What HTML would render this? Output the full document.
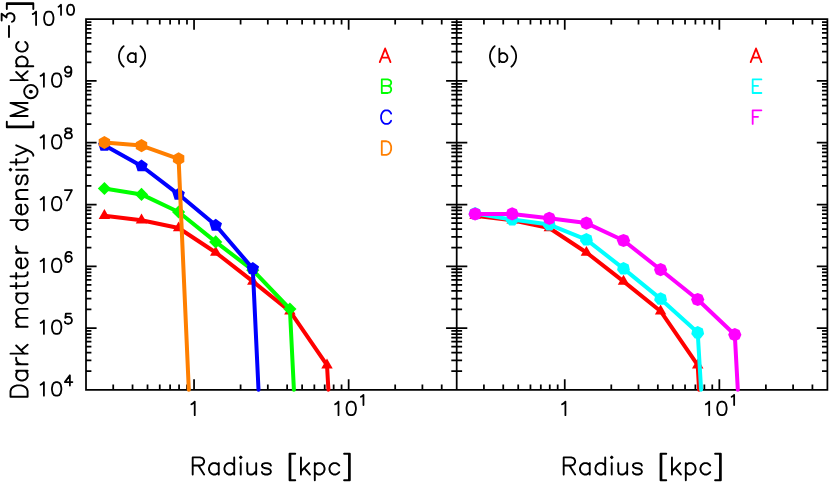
<!DOCTYPE html>
<html><head><meta charset="utf-8"><title>Dark matter density</title>
<style>html,body{margin:0;padding:0;background:#fff;font-family:"Liberation Sans",sans-serif}svg{display:block}</style></head>
<body><svg width="830" height="483" viewBox="0 0 830 483"><rect width="830" height="483" fill="#fff"/>
<path d="M86 19.2 H827.4 V389.8 H86 Z M456.7 19.2 V389.8 M113.22 19.2 v5.4 M113.22 389.8 v-5.4 M132.54 19.2 v5.4 M132.54 389.8 v-5.4 M147.52 19.2 v5.4 M147.52 389.8 v-5.4 M159.76 19.2 v5.4 M159.76 389.8 v-5.4 M170.11 19.2 v5.4 M170.11 389.8 v-5.4 M179.07 19.2 v5.4 M179.07 389.8 v-5.4 M186.98 19.2 v5.4 M186.98 389.8 v-5.4 M194.05 19.2 v10.6 M194.05 389.8 v-10.6 M240.59 19.2 v5.4 M240.59 389.8 v-5.4 M267.81 19.2 v5.4 M267.81 389.8 v-5.4 M287.13 19.2 v5.4 M287.13 389.8 v-5.4 M302.11 19.2 v5.4 M302.11 389.8 v-5.4 M314.35 19.2 v5.4 M314.35 389.8 v-5.4 M324.7 19.2 v5.4 M324.7 389.8 v-5.4 M333.66 19.2 v5.4 M333.66 389.8 v-5.4 M341.57 19.2 v5.4 M341.57 389.8 v-5.4 M348.65 19.2 v10.6 M348.65 389.8 v-10.6 M395.18 19.2 v5.4 M395.18 389.8 v-5.4 M422.4 19.2 v5.4 M422.4 389.8 v-5.4 M441.72 19.2 v5.4 M441.72 389.8 v-5.4 M483.92 19.2 v5.4 M483.92 389.8 v-5.4 M503.24 19.2 v5.4 M503.24 389.8 v-5.4 M518.22 19.2 v5.4 M518.22 389.8 v-5.4 M530.46 19.2 v5.4 M530.46 389.8 v-5.4 M540.81 19.2 v5.4 M540.81 389.8 v-5.4 M549.77 19.2 v5.4 M549.77 389.8 v-5.4 M557.68 19.2 v5.4 M557.68 389.8 v-5.4 M564.75 19.2 v10.6 M564.75 389.8 v-10.6 M611.29 19.2 v5.4 M611.29 389.8 v-5.4 M638.51 19.2 v5.4 M638.51 389.8 v-5.4 M657.83 19.2 v5.4 M657.83 389.8 v-5.4 M672.81 19.2 v5.4 M672.81 389.8 v-5.4 M685.05 19.2 v5.4 M685.05 389.8 v-5.4 M695.4 19.2 v5.4 M695.4 389.8 v-5.4 M704.36 19.2 v5.4 M704.36 389.8 v-5.4 M712.27 19.2 v5.4 M712.27 389.8 v-5.4 M719.35 19.2 v10.6 M719.35 389.8 v-10.6 M765.88 19.2 v5.4 M765.88 389.8 v-5.4 M793.1 19.2 v5.4 M793.1 389.8 v-5.4 M812.42 19.2 v5.4 M812.42 389.8 v-5.4 M86 371.21 h5.4 M451.3 371.21 h10.8 M827.4 371.21 h-5.4 M86 360.33 h5.4 M451.3 360.33 h10.8 M827.4 360.33 h-5.4 M86 352.61 h5.4 M451.3 352.61 h10.8 M827.4 352.61 h-5.4 M86 346.63 h5.4 M451.3 346.63 h10.8 M827.4 346.63 h-5.4 M86 341.74 h5.4 M451.3 341.74 h10.8 M827.4 341.74 h-5.4 M86 337.6 h5.4 M451.3 337.6 h10.8 M827.4 337.6 h-5.4 M86 334.02 h5.4 M451.3 334.02 h10.8 M827.4 334.02 h-5.4 M86 330.86 h5.4 M451.3 330.86 h10.8 M827.4 330.86 h-5.4 M86 328.03 h10.6 M446.1 328.03 h21.2 M827.4 328.03 h-10.6 M86 309.44 h5.4 M451.3 309.44 h10.8 M827.4 309.44 h-5.4 M86 298.56 h5.4 M451.3 298.56 h10.8 M827.4 298.56 h-5.4 M86 290.85 h5.4 M451.3 290.85 h10.8 M827.4 290.85 h-5.4 M86 284.86 h5.4 M451.3 284.86 h10.8 M827.4 284.86 h-5.4 M86 279.97 h5.4 M451.3 279.97 h10.8 M827.4 279.97 h-5.4 M86 275.83 h5.4 M451.3 275.83 h10.8 M827.4 275.83 h-5.4 M86 272.25 h5.4 M451.3 272.25 h10.8 M827.4 272.25 h-5.4 M86 269.09 h5.4 M451.3 269.09 h10.8 M827.4 269.09 h-5.4 M86 266.27 h10.6 M446.1 266.27 h21.2 M827.4 266.27 h-10.6 M86 247.67 h5.4 M451.3 247.67 h10.8 M827.4 247.67 h-5.4 M86 236.8 h5.4 M451.3 236.8 h10.8 M827.4 236.8 h-5.4 M86 229.08 h5.4 M451.3 229.08 h10.8 M827.4 229.08 h-5.4 M86 223.09 h5.4 M451.3 223.09 h10.8 M827.4 223.09 h-5.4 M86 218.2 h5.4 M451.3 218.2 h10.8 M827.4 218.2 h-5.4 M86 214.07 h5.4 M451.3 214.07 h10.8 M827.4 214.07 h-5.4 M86 210.49 h5.4 M451.3 210.49 h10.8 M827.4 210.49 h-5.4 M86 207.33 h5.4 M451.3 207.33 h10.8 M827.4 207.33 h-5.4 M86 204.5 h10.6 M446.1 204.5 h21.2 M827.4 204.5 h-10.6 M86 185.91 h5.4 M451.3 185.91 h10.8 M827.4 185.91 h-5.4 M86 175.03 h5.4 M451.3 175.03 h10.8 M827.4 175.03 h-5.4 M86 167.31 h5.4 M451.3 167.31 h10.8 M827.4 167.31 h-5.4 M86 161.33 h5.4 M451.3 161.33 h10.8 M827.4 161.33 h-5.4 M86 156.44 h5.4 M451.3 156.44 h10.8 M827.4 156.44 h-5.4 M86 152.3 h5.4 M451.3 152.3 h10.8 M827.4 152.3 h-5.4 M86 148.72 h5.4 M451.3 148.72 h10.8 M827.4 148.72 h-5.4 M86 145.56 h5.4 M451.3 145.56 h10.8 M827.4 145.56 h-5.4 M86 142.73 h10.6 M446.1 142.73 h21.2 M827.4 142.73 h-10.6 M86 124.14 h5.4 M451.3 124.14 h10.8 M827.4 124.14 h-5.4 M86 113.26 h5.4 M451.3 113.26 h10.8 M827.4 113.26 h-5.4 M86 105.55 h5.4 M451.3 105.55 h10.8 M827.4 105.55 h-5.4 M86 99.56 h5.4 M451.3 99.56 h10.8 M827.4 99.56 h-5.4 M86 94.67 h5.4 M451.3 94.67 h10.8 M827.4 94.67 h-5.4 M86 90.53 h5.4 M451.3 90.53 h10.8 M827.4 90.53 h-5.4 M86 86.95 h5.4 M451.3 86.95 h10.8 M827.4 86.95 h-5.4 M86 83.79 h5.4 M451.3 83.79 h10.8 M827.4 83.79 h-5.4 M86 80.97 h10.6 M446.1 80.97 h21.2 M827.4 80.97 h-10.6 M86 62.37 h5.4 M451.3 62.37 h10.8 M827.4 62.37 h-5.4 M86 51.5 h5.4 M451.3 51.5 h10.8 M827.4 51.5 h-5.4 M86 43.78 h5.4 M451.3 43.78 h10.8 M827.4 43.78 h-5.4 M86 37.79 h5.4 M451.3 37.79 h10.8 M827.4 37.79 h-5.4 M86 32.9 h5.4 M451.3 32.9 h10.8 M827.4 32.9 h-5.4 M86 28.77 h5.4 M451.3 28.77 h10.8 M827.4 28.77 h-5.4 M86 25.19 h5.4 M451.3 25.19 h10.8 M827.4 25.19 h-5.4 M86 22.03 h5.4 M451.3 22.03 h10.8 M827.4 22.03 h-5.4" fill="none" stroke="#000" stroke-width="1.75" stroke-linecap="butt" stroke-linejoin="miter"/>
<polyline points="104.4,215.7 141.5,220.2 178.6,228 215.7,252.5 252.8,281.4 289.9,311.2 327,365.2 328.4,389.7" fill="none" stroke="#ff0000" stroke-width="4" stroke-linejoin="round" stroke-linecap="round"/><polygon points="104.4,209.1 110.12,219 98.68,219" fill="#ff0000"/><polygon points="141.5,213.6 147.22,223.5 135.78,223.5" fill="#ff0000"/><polygon points="178.6,221.4 184.32,231.3 172.88,231.3" fill="#ff0000"/><polygon points="215.7,245.9 221.42,255.8 209.98,255.8" fill="#ff0000"/><polygon points="252.8,274.8 258.52,284.7 247.08,284.7" fill="#ff0000"/><polygon points="289.9,304.6 295.62,314.5 284.18,314.5" fill="#ff0000"/><polygon points="327,358.6 332.72,368.5 321.28,368.5" fill="#ff0000"/>
<polyline points="104.4,188.5 141.5,194.4 178.6,212 215.7,241.9 252.8,270.2 289.9,309 293.9,389.7" fill="none" stroke="#00ff00" stroke-width="4" stroke-linejoin="round" stroke-linecap="round"/><polygon points="104.4,181.9 111,188.5 104.4,195.1 97.8,188.5" fill="#00ff00"/><polygon points="141.5,187.8 148.1,194.4 141.5,201 134.9,194.4" fill="#00ff00"/><polygon points="178.6,205.4 185.2,212 178.6,218.6 172,212" fill="#00ff00"/><polygon points="215.7,235.3 222.3,241.9 215.7,248.5 209.1,241.9" fill="#00ff00"/><polygon points="252.8,263.6 259.4,270.2 252.8,276.8 246.2,270.2" fill="#00ff00"/><polygon points="289.9,302.4 296.5,309 289.9,315.6 283.3,309" fill="#00ff00"/>
<polyline points="104.4,145.3 141.5,166 178.6,194.3 215.7,225.3 252.8,268.6 258.5,389.7" fill="none" stroke="#0000ff" stroke-width="4" stroke-linejoin="round" stroke-linecap="round"/><polygon points="104.4,138.7 110.68,143.26 108.28,150.64 100.52,150.64 98.12,143.26" fill="#0000ff"/><polygon points="141.5,159.4 147.78,163.96 145.38,171.34 137.62,171.34 135.22,163.96" fill="#0000ff"/><polygon points="178.6,187.7 184.88,192.26 182.48,199.64 174.72,199.64 172.32,192.26" fill="#0000ff"/><polygon points="215.7,218.7 221.98,223.26 219.58,230.64 211.82,230.64 209.42,223.26" fill="#0000ff"/><polygon points="252.8,262 259.08,266.56 256.68,273.94 248.92,273.94 246.52,266.56" fill="#0000ff"/>
<polyline points="104.4,142.5 141.5,145.6 178.6,158.8 188.8,389.7" fill="none" stroke="#ff7f00" stroke-width="4" stroke-linejoin="round" stroke-linecap="round"/><polygon points="104.4,135.9 110.12,139.2 110.12,145.8 104.4,149.1 98.68,145.8 98.68,139.2" fill="#ff7f00"/><polygon points="141.5,139 147.22,142.3 147.22,148.9 141.5,152.2 135.78,148.9 135.78,142.3" fill="#ff7f00"/><polygon points="178.6,152.2 184.32,155.5 184.32,162.1 178.6,165.4 172.88,162.1 172.88,155.5" fill="#ff7f00"/>
<polyline points="475.1,215.7 512.2,220.2 549.3,228 586.4,252.5 623.5,281.4 660.6,311.2 697.7,365.2 699.1,389.7" fill="none" stroke="#ff0000" stroke-width="4" stroke-linejoin="round" stroke-linecap="round"/><polygon points="475.1,209.1 480.82,219 469.38,219" fill="#ff0000"/><polygon points="512.2,213.6 517.92,223.5 506.48,223.5" fill="#ff0000"/><polygon points="549.3,221.4 555.02,231.3 543.58,231.3" fill="#ff0000"/><polygon points="586.4,245.9 592.12,255.8 580.68,255.8" fill="#ff0000"/><polygon points="623.5,274.8 629.22,284.7 617.78,284.7" fill="#ff0000"/><polygon points="660.6,304.6 666.32,314.5 654.88,314.5" fill="#ff0000"/><polygon points="697.7,358.6 703.42,368.5 691.98,368.5" fill="#ff0000"/>
<polyline points="475.1,213.5 512.2,219.6 549.3,224.6 586.4,239.6 623.5,268.6 660.6,298.9 697.7,332.5 701.1,389.7" fill="none" stroke="#00ffff" stroke-width="4" stroke-linejoin="round" stroke-linecap="round"/><polygon points="475.1,206.9 480.26,209.38 481.53,214.97 477.96,219.45 472.24,219.45 468.67,214.97 469.94,209.38" fill="#00ffff"/><polygon points="512.2,213 517.36,215.48 518.63,221.07 515.06,225.55 509.34,225.55 505.77,221.07 507.04,215.48" fill="#00ffff"/><polygon points="549.3,218 554.46,220.48 555.73,226.07 552.16,230.55 546.44,230.55 542.87,226.07 544.14,220.48" fill="#00ffff"/><polygon points="586.4,233 591.56,235.48 592.83,241.07 589.26,245.55 583.54,245.55 579.97,241.07 581.24,235.48" fill="#00ffff"/><polygon points="623.5,262 628.66,264.48 629.93,270.07 626.36,274.55 620.64,274.55 617.07,270.07 618.34,264.48" fill="#00ffff"/><polygon points="660.6,292.3 665.76,294.78 667.03,300.37 663.46,304.85 657.74,304.85 654.17,300.37 655.44,294.78" fill="#00ffff"/><polygon points="697.7,325.9 702.86,328.38 704.13,333.97 700.56,338.45 694.84,338.45 691.27,333.97 692.54,328.38" fill="#00ffff"/>
<polyline points="475.1,214 512.2,213.9 549.3,218.3 586.4,223.1 623.5,240.5 660.6,269.7 697.7,299.5 734.8,334.7 737.8,389.7" fill="none" stroke="#ff00ff" stroke-width="4" stroke-linejoin="round" stroke-linecap="round"/><polygon points="475.1,207.4 479.77,209.33 481.7,214 479.77,218.67 475.1,220.6 470.43,218.67 468.5,214 470.43,209.33" fill="#ff00ff"/><polygon points="512.2,207.3 516.87,209.23 518.8,213.9 516.87,218.57 512.2,220.5 507.53,218.57 505.6,213.9 507.53,209.23" fill="#ff00ff"/><polygon points="549.3,211.7 553.97,213.63 555.9,218.3 553.97,222.97 549.3,224.9 544.63,222.97 542.7,218.3 544.63,213.63" fill="#ff00ff"/><polygon points="586.4,216.5 591.07,218.43 593,223.1 591.07,227.77 586.4,229.7 581.73,227.77 579.8,223.1 581.73,218.43" fill="#ff00ff"/><polygon points="623.5,233.9 628.17,235.83 630.1,240.5 628.17,245.17 623.5,247.1 618.83,245.17 616.9,240.5 618.83,235.83" fill="#ff00ff"/><polygon points="660.6,263.1 665.27,265.03 667.2,269.7 665.27,274.37 660.6,276.3 655.93,274.37 654,269.7 655.93,265.03" fill="#ff00ff"/><polygon points="697.7,292.9 702.37,294.83 704.3,299.5 702.37,304.17 697.7,306.1 693.03,304.17 691.1,299.5 693.03,294.83" fill="#ff00ff"/><polygon points="734.8,328.1 739.47,330.03 741.4,334.7 739.47,339.37 734.8,341.3 730.13,339.37 728.2,334.7 730.13,330.03" fill="#ff00ff"/>
<path d="M40.57 384.74 L41.91 384.09 L43.92 382.15 L43.92 395.7 M55.98 382.15 L53.97 382.8 L52.63 384.74 L51.96 387.96 L51.96 389.89 L52.63 393.12 L53.97 395.06 L55.98 395.7 L57.32 395.7 L59.33 395.06 L60.67 393.12 L61.34 389.89 L61.34 387.96 L60.67 384.74 L59.33 382.8 L57.32 382.15 L55.98 382.15 M69.88 375.35 L64.86 382.12 L72.4 382.12 M69.88 375.35 L69.88 385.51" fill="none" stroke="#000" stroke-width="1.8" stroke-linecap="round" stroke-linejoin="round"/>
<path d="M40.57 322.97 L41.91 322.32 L43.92 320.39 L43.92 333.93 M55.98 320.39 L53.97 321.03 L52.63 322.97 L51.96 326.19 L51.96 328.13 L52.63 331.35 L53.97 333.29 L55.98 333.93 L57.32 333.93 L59.33 333.29 L60.67 331.35 L61.34 328.13 L61.34 326.19 L60.67 322.97 L59.33 321.03 L57.32 320.39 L55.98 320.39 M70.89 313.58 L65.86 313.58 L65.36 317.94 L65.86 317.45 L67.37 316.97 L68.88 316.97 L70.39 317.45 L71.39 318.42 L71.89 319.87 L71.89 320.84 L71.39 322.29 L70.39 323.26 L68.88 323.74 L67.37 323.74 L65.86 323.26 L65.36 322.77 L64.86 321.81" fill="none" stroke="#000" stroke-width="1.8" stroke-linecap="round" stroke-linejoin="round"/>
<path d="M40.57 261.2 L41.91 260.56 L43.92 258.62 L43.92 272.17 M55.98 258.62 L53.97 259.27 L52.63 261.2 L51.96 264.43 L51.96 266.36 L52.63 269.59 L53.97 271.52 L55.98 272.17 L57.32 272.17 L59.33 271.52 L60.67 269.59 L61.34 266.36 L61.34 264.43 L60.67 261.2 L59.33 259.27 L57.32 258.62 L55.98 258.62 M71.39 253.27 L70.89 252.3 L69.38 251.82 L68.38 251.82 L66.87 252.3 L65.86 253.75 L65.36 256.17 L65.36 258.59 L65.86 260.52 L66.87 261.49 L68.38 261.98 L68.88 261.98 L70.39 261.49 L71.39 260.52 L71.89 259.07 L71.89 258.59 L71.39 257.14 L70.39 256.17 L68.88 255.69 L68.38 255.69 L66.87 256.17 L65.86 257.14 L65.36 258.59" fill="none" stroke="#000" stroke-width="1.8" stroke-linecap="round" stroke-linejoin="round"/>
<path d="M40.57 199.44 L41.91 198.79 L43.92 196.86 L43.92 210.4 M55.98 196.86 L53.97 197.5 L52.63 199.44 L51.96 202.66 L51.96 204.59 L52.63 207.82 L53.97 209.75 L55.98 210.4 L57.32 210.4 L59.33 209.75 L60.67 207.82 L61.34 204.59 L61.34 202.66 L60.67 199.44 L59.33 197.5 L57.32 196.86 L55.98 196.86 M71.89 190.05 L66.87 200.21 M64.86 190.05 L71.89 190.05" fill="none" stroke="#000" stroke-width="1.8" stroke-linecap="round" stroke-linejoin="round"/>
<path d="M40.57 137.67 L41.91 137.02 L43.92 135.09 L43.92 148.63 M55.98 135.09 L53.97 135.73 L52.63 137.67 L51.96 140.89 L51.96 142.83 L52.63 146.05 L53.97 147.99 L55.98 148.63 L57.32 148.63 L59.33 147.99 L60.67 146.05 L61.34 142.83 L61.34 140.89 L60.67 137.67 L59.33 135.73 L57.32 135.09 L55.98 135.09 M67.37 128.28 L65.86 128.77 L65.36 129.73 L65.36 130.7 L65.86 131.67 L66.87 132.15 L68.88 132.64 L70.39 133.12 L71.39 134.09 L71.89 135.06 L71.89 136.51 L71.39 137.47 L70.89 137.96 L69.38 138.44 L67.37 138.44 L65.86 137.96 L65.36 137.47 L64.86 136.51 L64.86 135.06 L65.36 134.09 L66.37 133.12 L67.87 132.64 L69.88 132.15 L70.89 131.67 L71.39 130.7 L71.39 129.73 L70.89 128.77 L69.38 128.28 L67.37 128.28" fill="none" stroke="#000" stroke-width="1.8" stroke-linecap="round" stroke-linejoin="round"/>
<path d="M40.57 75.9 L41.91 75.26 L43.92 73.32 L43.92 86.87 M55.98 73.32 L53.97 73.97 L52.63 75.9 L51.96 79.13 L51.96 81.06 L52.63 84.29 L53.97 86.22 L55.98 86.87 L57.32 86.87 L59.33 86.22 L60.67 84.29 L61.34 81.06 L61.34 79.13 L60.67 75.9 L59.33 73.97 L57.32 73.32 L55.98 73.32 M71.39 69.9 L70.89 71.35 L69.88 72.32 L68.38 72.81 L67.87 72.81 L66.37 72.32 L65.36 71.35 L64.86 69.9 L64.86 69.42 L65.36 67.97 L66.37 67 L67.87 66.52 L68.38 66.52 L69.88 67 L70.89 67.97 L71.39 69.9 L71.39 72.32 L70.89 74.74 L69.88 76.19 L68.38 76.68 L67.37 76.68 L65.86 76.19 L65.36 75.22" fill="none" stroke="#000" stroke-width="1.8" stroke-linecap="round" stroke-linejoin="round"/>
<path d="M32.72 14.14 L34.06 13.49 L36.07 11.56 L36.07 25.1 M48.13 11.56 L46.12 12.2 L44.78 14.14 L44.11 17.36 L44.11 19.3 L44.78 22.52 L46.12 24.46 L48.13 25.1 L49.47 25.1 L51.48 24.46 L52.82 22.52 L53.49 19.3 L53.49 17.36 L52.82 14.14 L51.48 12.2 L49.47 11.56 L48.13 11.56 M58.51 6.69 L59.52 6.2 L61.03 4.75 L61.03 14.91 M70.07 4.75 L68.56 5.23 L67.56 6.69 L67.06 9.1 L67.06 10.56 L67.56 12.97 L68.56 14.43 L70.07 14.91 L71.08 14.91 L72.58 14.43 L73.59 12.97 L74.09 10.56 L74.09 9.1 L73.59 6.69 L72.58 5.23 L71.08 4.75 L70.07 4.75" fill="none" stroke="#000" stroke-width="1.8" stroke-linecap="round" stroke-linejoin="round"/>
<path d="M191.37 404.24 L192.71 403.59 L194.72 401.65 L194.72 415.2" fill="none" stroke="#000" stroke-width="1.8" stroke-linecap="round" stroke-linejoin="round"/>
<path d="M335.14 404.24 L336.48 403.59 L338.49 401.65 L338.49 415.2 M350.55 401.65 L348.54 402.3 L347.2 404.24 L346.53 407.46 L346.53 409.39 L347.2 412.62 L348.54 414.56 L350.55 415.2 L351.89 415.2 L353.9 414.56 L355.24 412.62 L355.91 409.39 L355.91 407.46 L355.24 404.24 L353.9 402.3 L351.89 401.65 L350.55 401.65 M360.94 396.79 L361.94 396.3 L363.45 394.85 L363.45 405.01" fill="none" stroke="#000" stroke-width="1.8" stroke-linecap="round" stroke-linejoin="round"/>
<path d="M562.07 404.24 L563.41 403.59 L565.42 401.65 L565.42 415.2" fill="none" stroke="#000" stroke-width="1.8" stroke-linecap="round" stroke-linejoin="round"/>
<path d="M705.84 404.24 L707.18 403.59 L709.19 401.65 L709.19 415.2 M721.25 401.65 L719.24 402.3 L717.9 404.24 L717.23 407.46 L717.23 409.39 L717.9 412.62 L719.24 414.56 L721.25 415.2 L722.59 415.2 L724.6 414.56 L725.94 412.62 L726.61 409.39 L726.61 407.46 L725.94 404.24 L724.6 402.3 L722.59 401.65 L721.25 401.65 M731.64 396.79 L732.64 396.3 L734.15 394.85 L734.15 405.01" fill="none" stroke="#000" stroke-width="1.8" stroke-linecap="round" stroke-linejoin="round"/>
<path d="M123.67 46.08 L122.33 47.37 L120.99 49.3 L119.65 51.88 L118.98 55.11 L118.98 57.69 L119.65 60.91 L120.99 63.49 L122.33 65.42 L123.67 66.72 M135.73 53.17 L135.73 62.2 M135.73 55.11 L134.39 53.82 L133.05 53.17 L131.04 53.17 L129.7 53.82 L128.36 55.11 L127.69 57.04 L127.69 58.33 L128.36 60.27 L129.7 61.55 L131.04 62.2 L133.05 62.2 L134.39 61.55 L135.73 60.27 M140.42 46.08 L141.76 47.37 L143.1 49.3 L144.44 51.88 L145.11 55.11 L145.11 57.69 L144.44 60.91 L143.1 63.49 L141.76 65.42 L140.42 66.72" fill="none" stroke="#000" stroke-width="1.8" stroke-linecap="round" stroke-linejoin="round"/>
<path d="M494.67 46.08 L493.33 47.37 L491.99 49.3 L490.65 51.88 L489.98 55.11 L489.98 57.69 L490.65 60.91 L491.99 63.49 L493.33 65.42 L494.67 66.72 M499.36 48.66 L499.36 62.2 M499.36 55.11 L500.7 53.82 L502.04 53.17 L504.05 53.17 L505.39 53.82 L506.73 55.11 L507.4 57.04 L507.4 58.33 L506.73 60.27 L505.39 61.55 L504.05 62.2 L502.04 62.2 L500.7 61.55 L499.36 60.27 M511.42 46.08 L512.76 47.37 L514.1 49.3 L515.44 51.88 L516.11 55.11 L516.11 57.69 L515.44 60.91 L514.1 63.49 L512.76 65.42 L511.42 66.72" fill="none" stroke="#000" stroke-width="1.8" stroke-linecap="round" stroke-linejoin="round"/>
<path d="M385.13 48.55 L379.77 62.1 M385.13 48.55 L390.49 62.1 M381.78 57.59 L388.48 57.59" fill="none" stroke="#ff0000" stroke-width="1.8" stroke-linecap="round" stroke-linejoin="round"/>
<path d="M381.78 79.45 L381.78 93 M381.78 79.45 L387.81 79.45 L389.82 80.1 L390.49 80.75 L391.16 82.03 L391.16 83.33 L390.49 84.61 L389.82 85.26 L387.81 85.91 M381.78 85.91 L387.81 85.91 L389.82 86.55 L390.49 87.19 L391.16 88.48 L391.16 90.42 L390.49 91.71 L389.82 92.36 L387.81 93 L381.78 93" fill="none" stroke="#00ff00" stroke-width="1.8" stroke-linecap="round" stroke-linejoin="round"/>
<path d="M391.16 113.58 L390.49 112.29 L389.15 111 L387.81 110.36 L385.13 110.36 L383.79 111 L382.45 112.29 L381.78 113.58 L381.11 115.52 L381.11 118.74 L381.78 120.68 L382.45 121.97 L383.79 123.26 L385.13 123.9 L387.81 123.9 L389.15 123.26 L390.49 121.97 L391.16 120.68" fill="none" stroke="#0000ff" stroke-width="1.8" stroke-linecap="round" stroke-linejoin="round"/>
<path d="M381.78 141.25 L381.78 154.8 M381.78 141.25 L386.47 141.25 L388.48 141.9 L389.82 143.19 L390.49 144.48 L391.16 146.41 L391.16 149.64 L390.49 151.57 L389.82 152.86 L388.48 154.15 L386.47 154.8 L381.78 154.8" fill="none" stroke="#ff7f00" stroke-width="1.8" stroke-linecap="round" stroke-linejoin="round"/>
<path d="M756.03 48.55 L750.67 62.1 M756.03 48.55 L761.39 62.1 M752.68 57.59 L759.38 57.59" fill="none" stroke="#ff0000" stroke-width="1.8" stroke-linecap="round" stroke-linejoin="round"/>
<path d="M752.68 79.45 L752.68 93 M752.68 79.45 L761.39 79.45 M752.68 85.91 L758.04 85.91 M752.68 93 L761.39 93" fill="none" stroke="#00ffff" stroke-width="1.8" stroke-linecap="round" stroke-linejoin="round"/>
<path d="M752.68 110.36 L752.68 123.9 M752.68 110.36 L761.39 110.36 M752.68 116.81 L758.04 116.81" fill="none" stroke="#ff00ff" stroke-width="1.8" stroke-linecap="round" stroke-linejoin="round"/>
<path d="M192.7 457.38 L192.7 474.5 M192.7 457.38 L200.03 457.38 L202.47 458.2 L203.28 459.01 L204.1 460.64 L204.1 462.27 L203.28 463.9 L202.47 464.72 L200.03 465.54 L192.7 465.54 M198.4 465.54 L204.1 474.5 M218.75 463.09 L218.75 474.5 M218.75 465.54 L217.12 463.9 L215.49 463.09 L213.05 463.09 L211.42 463.9 L209.79 465.54 L208.98 467.98 L208.98 469.61 L209.79 472.06 L211.42 473.69 L213.05 474.5 L215.49 474.5 L217.12 473.69 L218.75 472.06 M234.21 457.38 L234.21 474.5 M234.21 465.54 L232.59 463.9 L230.96 463.09 L228.52 463.09 L226.89 463.9 L225.26 465.54 L224.45 467.98 L224.45 469.61 L225.26 472.06 L226.89 473.69 L228.52 474.5 L230.96 474.5 L232.59 473.69 L234.21 472.06 M239.91 457.38 L240.73 458.2 L241.54 457.38 L240.73 456.57 L239.91 457.38 M240.73 463.09 L240.73 474.5 M247.24 463.09 L247.24 471.24 L248.05 473.69 L249.68 474.5 L252.12 474.5 L253.75 473.69 L256.19 471.24 M256.19 463.09 L256.19 474.5 M270.84 465.54 L270.03 463.9 L267.59 463.09 L265.15 463.09 L262.7 463.9 L261.89 465.54 L262.7 467.17 L264.33 467.98 L268.4 468.8 L270.03 469.61 L270.84 471.24 L270.84 472.06 L270.03 473.69 L267.59 474.5 L265.15 474.5 L262.7 473.69 L261.89 472.06 M289.57 453.72 L289.57 480.2 M290.38 453.72 L290.38 480.2 M289.57 453.72 L295.26 453.72 M289.57 480.2 L295.26 480.2 M300.96 457.38 L300.96 474.5 M309.1 463.09 L300.96 471.24 M304.22 467.98 L309.92 474.5 M314.8 463.09 L314.8 480.2 M314.8 465.54 L316.43 463.9 L318.06 463.09 L320.5 463.09 L322.13 463.9 L323.75 465.54 L324.57 467.98 L324.57 469.61 L323.75 472.06 L322.13 473.69 L320.5 474.5 L318.06 474.5 L316.43 473.69 L314.8 472.06 M339.22 465.54 L337.59 463.9 L335.96 463.09 L333.52 463.09 L331.89 463.9 L330.27 465.54 L329.45 467.98 L329.45 469.61 L330.27 472.06 L331.89 473.69 L333.52 474.5 L335.96 474.5 L337.59 473.69 L339.22 472.06 M348.99 453.72 L348.99 480.2 M349.8 453.72 L349.8 480.2 M344.1 453.72 L349.8 453.72 M344.1 480.2 L349.8 480.2" fill="none" stroke="#000" stroke-width="1.9" stroke-linecap="round" stroke-linejoin="round"/>
<path d="M563.7 457.38 L563.7 474.5 M563.7 457.38 L571.03 457.38 L573.47 458.2 L574.28 459.01 L575.1 460.64 L575.1 462.27 L574.28 463.9 L573.47 464.72 L571.03 465.54 L563.7 465.54 M569.4 465.54 L575.1 474.5 M589.75 463.09 L589.75 474.5 M589.75 465.54 L588.12 463.9 L586.49 463.09 L584.05 463.09 L582.42 463.9 L580.79 465.54 L579.98 467.98 L579.98 469.61 L580.79 472.06 L582.42 473.69 L584.05 474.5 L586.49 474.5 L588.12 473.69 L589.75 472.06 M605.21 457.38 L605.21 474.5 M605.21 465.54 L603.59 463.9 L601.96 463.09 L599.52 463.09 L597.89 463.9 L596.26 465.54 L595.45 467.98 L595.45 469.61 L596.26 472.06 L597.89 473.69 L599.52 474.5 L601.96 474.5 L603.59 473.69 L605.21 472.06 M610.91 457.38 L611.73 458.2 L612.54 457.38 L611.73 456.57 L610.91 457.38 M611.73 463.09 L611.73 474.5 M618.24 463.09 L618.24 471.24 L619.05 473.69 L620.68 474.5 L623.12 474.5 L624.75 473.69 L627.19 471.24 M627.19 463.09 L627.19 474.5 M641.84 465.54 L641.03 463.9 L638.59 463.09 L636.15 463.09 L633.7 463.9 L632.89 465.54 L633.7 467.17 L635.33 467.98 L639.4 468.8 L641.03 469.61 L641.84 471.24 L641.84 472.06 L641.03 473.69 L638.59 474.5 L636.15 474.5 L633.7 473.69 L632.89 472.06 M660.57 453.72 L660.57 480.2 M661.38 453.72 L661.38 480.2 M660.57 453.72 L666.26 453.72 M660.57 480.2 L666.26 480.2 M671.96 457.38 L671.96 474.5 M680.1 463.09 L671.96 471.24 M675.22 467.98 L680.92 474.5 M685.8 463.09 L685.8 480.2 M685.8 465.54 L687.43 463.9 L689.06 463.09 L691.5 463.09 L693.13 463.9 L694.75 465.54 L695.57 467.98 L695.57 469.61 L694.75 472.06 L693.13 473.69 L691.5 474.5 L689.06 474.5 L687.43 473.69 L685.8 472.06 M710.22 465.54 L708.59 463.9 L706.96 463.09 L704.52 463.09 L702.89 463.9 L701.27 465.54 L700.45 467.98 L700.45 469.61 L701.27 472.06 L702.89 473.69 L704.52 474.5 L706.96 474.5 L708.59 473.69 L710.22 472.06 M719.99 453.72 L719.99 480.2 M720.8 453.72 L720.8 480.2 M715.1 453.72 L720.8 453.72 M715.1 480.2 L720.8 480.2" fill="none" stroke="#000" stroke-width="1.9" stroke-linecap="round" stroke-linejoin="round"/>
<path d="M10.49 396.8 L27.6 396.8 M10.49 396.8 L10.49 391.1 L11.3 388.66 L12.93 387.03 L14.56 386.22 L17.01 385.4 L21.08 385.4 L23.53 386.22 L25.16 387.03 L26.79 388.66 L27.6 391.1 L27.6 396.8 M16.19 370.75 L27.6 370.75 M18.64 370.75 L17.01 372.38 L16.19 374.01 L16.19 376.45 L17.01 378.08 L18.64 379.71 L21.08 380.52 L22.71 380.52 L25.16 379.71 L26.79 378.08 L27.6 376.45 L27.6 374.01 L26.79 372.38 L25.16 370.75 M16.19 364.24 L27.6 364.24 M21.08 364.24 L18.64 363.43 L17.01 361.8 L16.19 360.17 L16.19 357.73 M10.49 353.66 L27.6 353.66 M16.19 345.52 L24.34 353.66 M21.08 350.4 L27.6 344.7 M16.19 326.8 L27.6 326.8 M19.45 326.8 L17.01 324.35 L16.19 322.73 L16.19 320.28 L17.01 318.66 L19.45 317.84 L27.6 317.84 M19.45 317.84 L17.01 315.4 L16.19 313.77 L16.19 311.33 L17.01 309.7 L19.45 308.89 L27.6 308.89 M16.19 293.42 L27.6 293.42 M18.64 293.42 L17.01 295.05 L16.19 296.68 L16.19 299.12 L17.01 300.75 L18.64 302.38 L21.08 303.19 L22.71 303.19 L25.16 302.38 L26.79 300.75 L27.6 299.12 L27.6 296.68 L26.79 295.05 L25.16 293.42 M10.49 286.1 L24.34 286.1 L26.79 285.28 L27.6 283.65 L27.6 282.03 M16.19 288.54 L16.19 282.84 M10.49 276.33 L24.34 276.33 L26.79 275.51 L27.6 273.89 L27.6 272.26 M16.19 278.77 L16.19 273.07 M21.08 268.19 L21.08 258.42 L19.45 258.42 L17.82 259.23 L17.01 260.05 L16.19 261.68 L16.19 264.12 L17.01 265.75 L18.64 267.37 L21.08 268.19 L22.71 268.19 L25.16 267.37 L26.79 265.75 L27.6 264.12 L27.6 261.68 L26.79 260.05 L25.16 258.42 M16.19 252.72 L27.6 252.72 M21.08 252.72 L18.64 251.91 L17.01 250.28 L16.19 248.65 L16.19 246.21 M10.49 220.16 L27.6 220.16 M18.64 220.16 L17.01 221.79 L16.19 223.42 L16.19 225.86 L17.01 227.49 L18.64 229.12 L21.08 229.93 L22.71 229.93 L25.16 229.12 L26.79 227.49 L27.6 225.86 L27.6 223.42 L26.79 221.79 L25.16 220.16 M21.08 214.46 L21.08 204.7 L19.45 204.7 L17.82 205.51 L17.01 206.32 L16.19 207.95 L16.19 210.39 L17.01 212.02 L18.64 213.65 L21.08 214.46 L22.71 214.46 L25.16 213.65 L26.79 212.02 L27.6 210.39 L27.6 207.95 L26.79 206.32 L25.16 204.7 M16.19 199 L27.6 199 M19.45 199 L17.01 196.56 L16.19 194.93 L16.19 192.49 L17.01 190.86 L19.45 190.04 L27.6 190.04 M18.64 175.39 L17.01 176.21 L16.19 178.65 L16.19 181.09 L17.01 183.53 L18.64 184.35 L20.27 183.53 L21.08 181.9 L21.9 177.83 L22.71 176.21 L24.34 175.39 L25.16 175.39 L26.79 176.21 L27.6 178.65 L27.6 181.09 L26.79 183.53 L25.16 184.35 M10.49 170.51 L11.3 169.69 L10.49 168.88 L9.67 169.69 L10.49 170.51 M16.19 169.69 L27.6 169.69 M10.49 162.37 L24.34 162.37 L26.79 161.55 L27.6 159.93 L27.6 158.3 M16.19 164.81 L16.19 159.11 M16.19 155.04 L27.6 150.16 M16.19 145.27 L27.6 150.16 L30.86 151.79 L32.49 153.41 L33.3 155.04 L33.3 155.86 M6.82 127.37 L33.3 127.37 M6.82 126.55 L33.3 126.55 M6.82 127.37 L6.82 121.67 M33.3 127.37 L33.3 121.67 M10.49 115.97 L27.6 115.97 M10.49 115.97 L27.6 109.46 M10.49 102.95 L27.6 109.46 M10.49 102.95 L27.6 102.95 M10.49 80.15 L27.6 80.15 M16.19 72.01 L24.34 80.15 M21.08 76.9 L27.6 71.2 M16.19 66.32 L33.3 66.32 M18.64 66.32 L17.01 64.69 L16.19 63.06 L16.19 60.62 L17.01 58.99 L18.64 57.36 L21.08 56.55 L22.71 56.55 L25.16 57.36 L26.79 58.99 L27.6 60.62 L27.6 63.06 L26.79 64.69 L25.16 66.32 M18.64 41.9 L17.01 43.52 L16.19 45.15 L16.19 47.59 L17.01 49.22 L18.64 50.85 L21.08 51.66 L22.71 51.66 L25.16 50.85 L26.79 49.22 L27.6 47.59 L27.6 45.15 L26.79 43.52 L25.16 41.9 M8.98 37.01 L8.98 26.02 M1.64 20.53 L1.64 13.81 L6.53 17.48 L6.53 15.64 L7.14 14.42 L7.75 13.81 L9.59 13.2 L10.81 13.2 L12.64 13.81 L13.87 15.03 L14.48 16.87 L14.48 18.7 L13.87 20.53 L13.26 21.14 L12.03 21.75 M6.82 4.05 L33.3 4.05 M6.82 3.23 L33.3 3.23 M6.82 8.93 L6.82 3.23 M33.3 8.93 L33.3 3.23" fill="none" stroke="#000" stroke-width="1.9" stroke-linecap="round" stroke-linejoin="round"/><circle cx="30.86" cy="91.55" r="6.7" fill="none" stroke="#000" stroke-width="1.9"/><circle cx="30.86" cy="91.55" r="1.9" fill="#000"/>
</svg></body></html>
